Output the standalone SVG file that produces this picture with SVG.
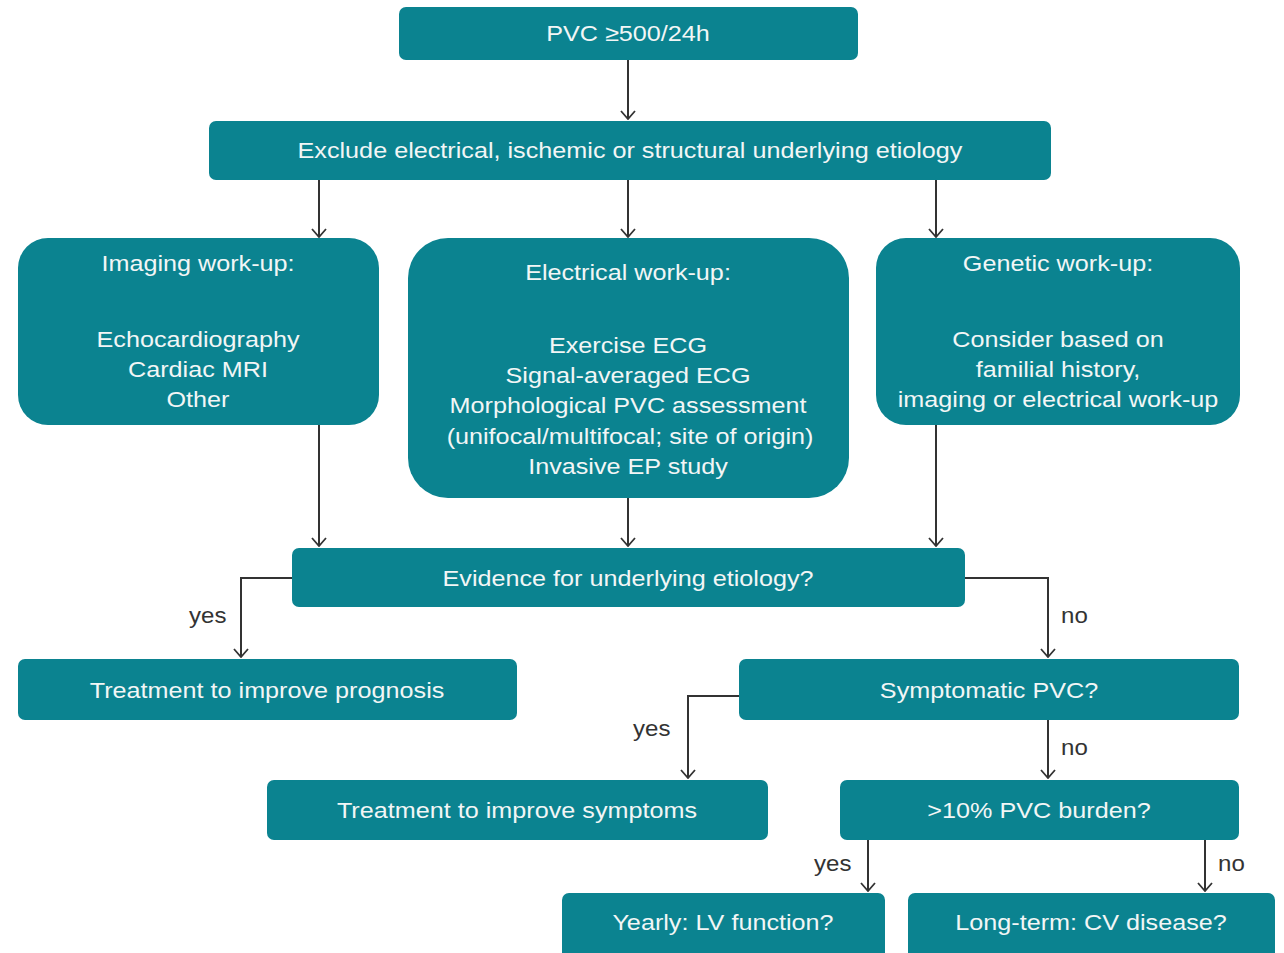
<svg xmlns="http://www.w3.org/2000/svg" width="1284" height="953" viewBox="0 0 1284 953">
<defs>
<marker id="arrv" viewBox="0 0 16 12" refX="8" refY="11" markerWidth="16" markerHeight="12" markerUnits="userSpaceOnUse" orient="0">
<path d="M1,3 L8,11 L15,3" fill="none" stroke="#333" stroke-width="1.8"/>
</marker>
<style>
.box{fill:#0b8390;}
.t{font-family:"Liberation Sans",Arial,sans-serif;font-size:22.5px;fill:#f2f6f6;text-anchor:middle;}
.lbl{font-family:"Liberation Sans",Arial,sans-serif;font-size:21.5px;fill:#333;}
.c{fill:none;stroke:#333;stroke-width:2;marker-end:url(#arrv);}
</style>
</defs>
<rect width="1284" height="953" fill="#fff"/>
<g id="connectors">
<path class="c" d="M628,60 V119"/>
<path class="c" d="M319,180 V237"/>
<path class="c" d="M628,180 V237"/>
<path class="c" d="M936,180 V237"/>
<path class="c" d="M319,425 V546"/>
<path class="c" d="M628,498 V546"/>
<path class="c" d="M936,425 V546"/>
<path class="c" d="M292,578 H241 V657"/>
<path class="c" d="M965,578 H1048 V657"/>
<path class="c" d="M739,696 H688 V778"/>
<path class="c" d="M1048,720 V778"/>
<path class="c" d="M868,840 V891"/>
<path class="c" d="M1205,840 V891"/>
<text class="lbl" transform="translate(189,623) scale(1.12,1)">yes</text>
<text class="lbl" transform="translate(1061,623) scale(1.12,1)">no</text>
<text class="lbl" transform="translate(633,736) scale(1.12,1)">yes</text>
<text class="lbl" transform="translate(1061,755) scale(1.12,1)">no</text>
<text class="lbl" transform="translate(814,871) scale(1.12,1)">yes</text>
<text class="lbl" transform="translate(1218,871) scale(1.12,1)">no</text>
</g>
<g id="n1"><rect class="box" x="399" y="7" width="459" height="53" rx="7"/><text class="t" transform="translate(628,41) scale(1.12,1)">PVC ≥500/24h</text></g>
<g id="n2"><rect class="box" x="209" y="121" width="842" height="59" rx="7"/><text class="t" transform="translate(630,158) scale(1.12,1)">Exclude electrical, ischemic or structural underlying etiology</text></g>
<g id="n3"><rect class="box" x="18" y="238" width="361" height="187" rx="30"/>
<text class="t" transform="translate(198,271) scale(1.12,1)">Imaging work-up:</text>
<text class="t" transform="translate(198,347) scale(1.12,1)">Echocardiography</text>
<text class="t" transform="translate(198,377) scale(1.12,1)">Cardiac MRI</text>
<text class="t" transform="translate(198,407) scale(1.12,1)">Other</text></g>
<g id="n4"><rect class="box" x="408" y="238" width="441" height="260" rx="40"/>
<text class="t" transform="translate(628,280) scale(1.12,1)">Electrical work-up:</text>
<text class="t" transform="translate(628,353) scale(1.12,1)">Exercise ECG</text>
<text class="t" transform="translate(628,383) scale(1.12,1)">Signal-averaged ECG</text>
<text class="t" transform="translate(628,413) scale(1.12,1)">Morphological PVC assessment</text>
<text class="t" transform="translate(630,444) scale(1.12,1)">(unifocal/multifocal; site of origin)</text>
<text class="t" transform="translate(628,474) scale(1.12,1)">Invasive EP study</text></g>
<g id="n5"><rect class="box" x="876" y="238" width="364" height="187" rx="30"/>
<text class="t" transform="translate(1058,271) scale(1.12,1)">Genetic work-up:</text>
<text class="t" transform="translate(1058,347) scale(1.12,1)">Consider based on</text>
<text class="t" transform="translate(1058,377) scale(1.12,1)">familial history,</text>
<text class="t" transform="translate(1058,407) scale(1.12,1)">imaging or electrical work-up</text></g>
<g id="n6"><rect class="box" x="292" y="548" width="673" height="59" rx="7"/><text class="t" transform="translate(628,586) scale(1.12,1)">Evidence for underlying etiology?</text></g>
<g id="n7"><rect class="box" x="18" y="659" width="499" height="61" rx="7"/><text class="t" transform="translate(267,698) scale(1.12,1)">Treatment to improve prognosis</text></g>
<g id="n8"><rect class="box" x="739" y="659" width="500" height="61" rx="7"/><text class="t" transform="translate(989,698) scale(1.12,1)">Symptomatic PVC?</text></g>
<g id="n9"><rect class="box" x="267" y="780" width="501" height="60" rx="7"/><text class="t" transform="translate(517,818) scale(1.12,1)">Treatment to improve symptoms</text></g>
<g id="n10"><rect class="box" x="840" y="780" width="399" height="60" rx="7"/><text class="t" transform="translate(1039,818) scale(1.12,1)">&gt;10% PVC burden?</text></g>
<g id="n11"><rect class="box" x="562" y="893" width="323" height="66" rx="7"/><text class="t" transform="translate(723,930) scale(1.12,1)">Yearly: LV function?</text></g>
<g id="n12"><rect class="box" x="908" y="893" width="367" height="66" rx="7"/><text class="t" transform="translate(1091,930) scale(1.12,1)">Long-term: CV disease?</text></g>
</svg>
